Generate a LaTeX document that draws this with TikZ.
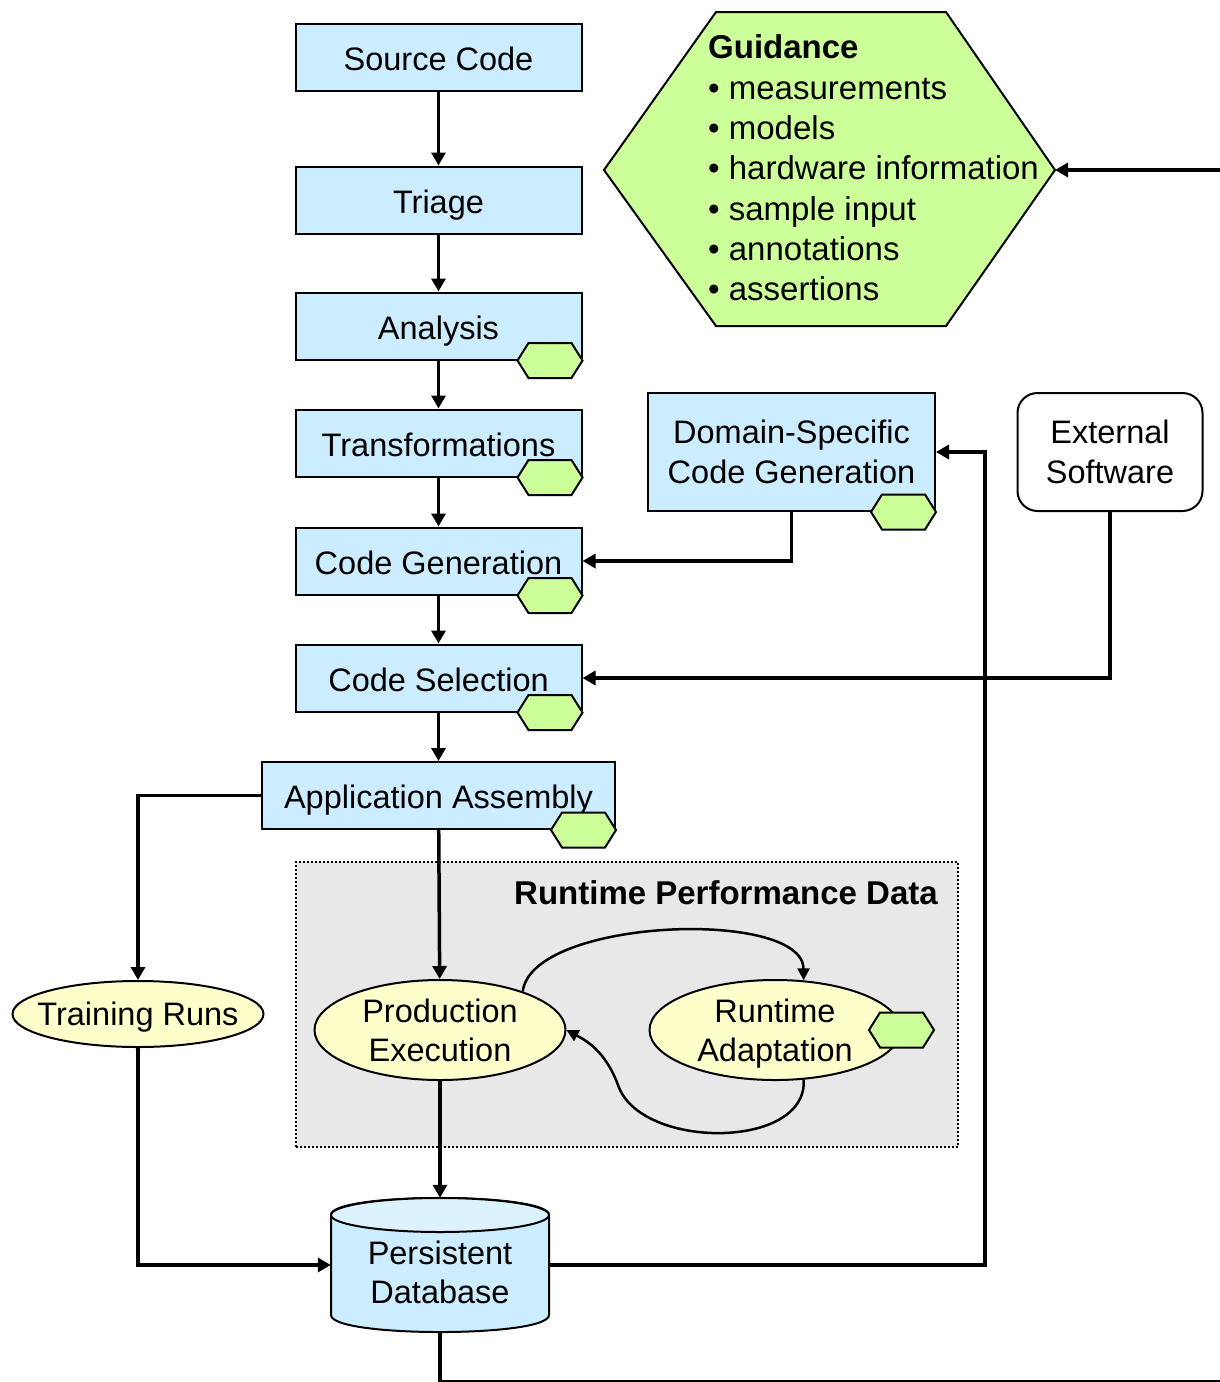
\documentclass[tikz,border=0pt]{standalone}
\usepackage{fontspec}
\setmainfont{Liberation Sans}
\usetikzlibrary{arrows.meta,shapes.geometric}
\definecolor{boxblue}{HTML}{CCECFF}
\definecolor{dbtop}{HTML}{DDF2FF}
\definecolor{ellyel}{HTML}{FFFFCC}
\definecolor{hexgreen}{HTML}{CCFF99}
\definecolor{rpdgray}{HTML}{E8E8E8}
\begin{document}
\begin{tikzpicture}[x=1pt,y=-1pt,
  every node/.style={font=\fontsize{32.5}{39.5}\selectfont, inner sep=0pt},
  blk/.style={draw, fill=boxblue, line width=2pt, minimum width=286pt, minimum height=67pt, text height=26.4pt, text depth=0pt},
  ell/.style={ellipse, draw, fill=ellyel, line width=2pt, align=center, inner xsep=-30pt, inner ysep=-5pt, minimum width=251pt, minimum height=100pt, text depth=0pt},
  conn/.style={line width=3.5pt, -{Triangle[length=13pt,width=14pt]}},
  plainline/.style={line width=3.5pt},
  curvearr/.style={line width=2.5pt, -{Triangle[length=12pt,width=12pt]}},
  hexline/.style={draw, fill=hexgreen, line width=2pt},
  minihex/.pic={\path[hexline] (-32.5,0) -- (-21.5,-17.5) -- (21.5,-17.5) -- (32.5,0) -- (21.5,17.5) -- (-21.5,17.5) -- cycle;}
]
\useasboundingbox[fill=white] (0,0) rectangle (1220,1382);

% runtime performance data region
\node[draw, fill=rpdgray, dash pattern=on 2pt off 2pt, line width=1.5pt, minimum width=662pt, minimum height=285pt] (rpd) at (627,1004.5) {};
\node[anchor=east, font=\fontsize{33}{39.5}\selectfont\bfseries] (rpdt) at (938,893) {Runtime Performance Data};

% guidance hexagon
\draw[hexline] (716,12) -- (946,12) -- (1055,170) -- (946,326) -- (716,326) -- (604,170) -- cycle;
\coordinate (gR) at (1055,170);
\coordinate (gin) at (1224,170);
\node[anchor=west, align=left, font=\fontsize{33}{40.3}\selectfont] (gtxt) at (708,168)
  {\textbf{Guidance}\\• measurements\\• models\\• hardware information\\• sample input\\• annotations\\• assertions};

% main column
\node[blk] (src) at (438.5,57) {Source Code};
\node[blk] (tri) at (438.5,200) {Triage};
\node[blk] (ana) at (438.5,326) {Analysis};
\node[blk] (trn) at (438.5,443) {Transformations};
\node[blk] (cg)  at (438.5,561) {Code Generation};
\node[blk] (cs)  at (438.5,678) {Code Selection};
\node[blk, minimum width=353pt] (aa) at (438.5,795.5) {Application Assembly};

\node[draw, fill=boxblue, line width=2pt, minimum width=287pt, minimum height=118pt, align=center] (dsc) at (791.5,452) {Domain-Specific\\Code Generation};
\node[draw, fill=white, rounded corners=20pt, line width=2pt, minimum width=185pt, minimum height=118pt, align=center] (ext) at (1110,452) {External\\Software};

\node[ell, minimum height=66pt] (tr) at (138,1014) {Training Runs};
\node[ell] (pe) at (440,1030) {Production\\Execution};
\node[ell] (ra) at (775,1030) {Runtime\\Adaptation};

% database cylinder
\node[minimum width=218pt, minimum height=134pt] (db) at (440,1265) {};
\draw[line width=2pt, fill=boxblue] (331,1215) -- (331,1315) .. controls (331,1337.7) and (549,1337.7) .. (549,1315) -- (549,1215) .. controls (549,1192.3) and (331,1192.3) .. (331,1215) -- cycle;
\draw[line width=2pt, fill=dbtop] (440,1215) ellipse [x radius=109, y radius=17];
\node[align=center] (dbtxt) at (440,1272.5) {Persistent\\Database};

% connectors
\draw[conn] (src) -- (tri);
\draw[conn] (tri) -- (ana);
\draw[conn] (ana) -- (trn);
\draw[conn] (trn) -- (cg);
\draw[conn] (cg) -- (cs);
\draw[conn] (cs) -- (aa);
\draw[conn] (aa) -- (pe);
\draw[conn] (pe) -- (db);
\draw[conn] (dsc.south) |- (cg.east);
\draw[conn] (ext.south) |- (cs.east);
\coordinate (dbr) at (985,452);
\draw[conn] (db.east) -| (dbr) -- (dsc.east);
\draw[conn] (aa.west) -| (tr.north);
\draw[conn] (tr.south) |- (db.west);
\coordinate (bot) at (1224,1381.5);
\draw[plainline] (db.south) |- (bot);
\draw[conn] (gin) -- (gR);

\draw[curvearr] (pe.25) .. controls (532,918) and (803,908) .. (ra.60);
\draw[curvearr] (ra.-60) .. controls (808,1150) and (640,1150) .. (618,1085) .. controls (605,1050) and (585,1040) .. (pe.east);

% small hexagons
\pic at ([xshift=-32.5pt]ana.south east) {minihex};
\pic at ([xshift=-32.5pt]trn.south east) {minihex};
\pic at ([xshift=-32.5pt]cg.south east) {minihex};
\pic at ([xshift=-32.5pt]cs.south east) {minihex};
\pic at ([xshift=-32.5pt]aa.south east) {minihex};
\pic at ([xshift=-32.5pt]dsc.south east) {minihex};
\pic at (ra.east) {minihex};
\end{tikzpicture}
\end{document}
